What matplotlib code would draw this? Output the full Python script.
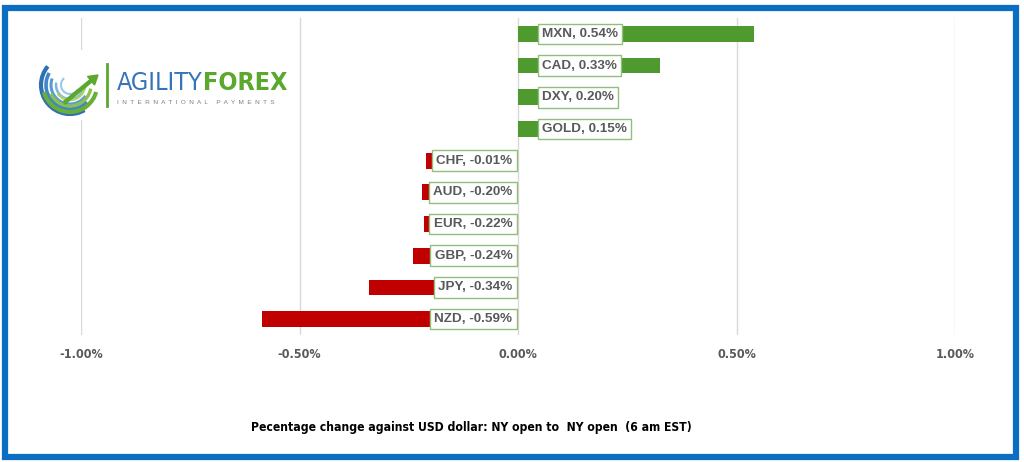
import numpy as np
import matplotlib.pyplot as plt
from matplotlib.patches import Rectangle, Arc, FancyArrow

# dados do grafico (de cima para baixo)
moedas = ["MXN", "CAD", "DXY", "GOLD", "CHF", "AUD", "EUR", "GBP", "JPY", "NZD"]
variacao = [0.54, 0.33, 0.20, 0.15, -0.01, -0.20, -0.22, -0.24, -0.34, -0.59]
# comprimento das barras como aparecem desenhadas
barras = [0.54, 0.325, 0.20, 0.15, -0.21, -0.22, -0.215, -0.24, -0.34, -0.585]
ticks_x = [-1.0, -0.5, 0.0, 0.5, 1.0]
titulo_x = "Pecentage change against USD dollar: NY open to  NY open  (6 am EST)"

W, H = 1024, 462
verde = "#4e9a2f"
vermelho = "#c00000"
cinza = "#595959"

fig = plt.figure(figsize=(W / 100, H / 100), dpi=100)
fig.patch.set_facecolor("white")

# moldura azul
fig.patches.append(Rectangle((5 / W, 1 - 457 / H), 1011 / W, 449 / H, transform=fig.transFigure,
                             fill=False, edgecolor="#0a6fc2", linewidth=4.5, zorder=10))

ax = fig.add_axes([81 / W, 1 - 335 / H, 874 / W, 317 / H])
y = np.arange(len(moedas))
cores = [verde if v >= 0 else vermelho for v in variacao]
ax.barh(y, barras, height=0.5, color=cores, zorder=2)
ax.set_xlim(-1, 1)
ax.set_ylim(len(moedas) - 0.5, -0.5)
ax.set_xticks(ticks_x)
ax.set_xticklabels([f"{t:.2f}%" for t in ticks_x], fontsize=9, fontweight="bold",
                   color=cinza, family="DejaVu Sans", fontstretch="condensed")
ax.tick_params(axis="x", length=0, pad=9)
ax.set_yticks([])
ax.grid(axis="x", color="#d9d9d9", linewidth=1, zorder=0)
for s in ax.spines.values():
    s.set_visible(False)

for i, (m, v) in enumerate(zip(moedas, variacao)):
    rotulo = f"{m}, {v:.2f}%"
    caixa = dict(boxstyle="square,pad=0.32", facecolor="white", edgecolor="#8fbf7a", linewidth=1)
    if v >= 0:
        ax.text(0.055, i, rotulo, ha="left", va="center", fontsize=9.7, fontweight="bold",
                color=cinza, family="Liberation Sans", bbox=caixa, zorder=5)
    else:
        ax.text(-0.013, i, rotulo, ha="right", va="center", fontsize=9.7, fontweight="bold",
                color=cinza, family="Liberation Sans", bbox=caixa, zorder=5)

fig.text(471 / W, 1 - 427 / H, titulo_x, ha="center", va="center", fontsize=8.7,
         fontweight="bold", color="black", family="DejaVu Sans", fontstretch="condensed")

# logo
lg = fig.add_axes([20 / W, 1 - 120 / H, 270 / W, 70 / H])
lg.set_xlim(0, 270)
lg.set_ylim(0, 70)
lg.axis("off")
lg.add_patch(Rectangle((0, 0), 270, 70, facecolor="white", edgecolor="none", zorder=0))
cx, cy = 50, 35
for r, t1, t2, c, lw in [(29, 140, 300, "#2f6fb3", 3.0), (24, 150, 315, "#3f86c6", 2.6),
                         (19, 160, 325, "#5a9ad3", 2.2), (14, 170, 335, "#7fb3e0", 1.8),
                         (9, 130, 330, "#9cc7ea", 1.5), (27, 195, 345, "#6aae3a", 3.0),
                         (21, 205, 350, "#8cc152", 2.4), (15, 215, 352, "#a9d46e", 1.8)]:
    lg.add_patch(Arc((cx, cy), 2 * r, 2 * r, theta1=t1, theta2=t2, color=c, linewidth=lw))
lg.add_patch(FancyArrow(44, 17, 34, 28, width=3, head_width=11, head_length=9,
                        color="#5aa82e", length_includes_head=True))
lg.plot([87, 87], [14, 56], color="#5aa82e", linewidth=2)
t1 = lg.text(97, 37, "AGILITY", ha="left", va="center", fontsize=18, color="#3674b8",
             family="DejaVu Sans", fontstretch="condensed", fontweight="light")
fig.canvas.draw()
bb = t1.get_window_extent().transformed(lg.transData.inverted())
lg.text(bb.x1, 37, "FOREX", ha="left", va="center", fontsize=18, color="#5aa82e",
        fontweight="bold", family="DejaVu Sans", fontstretch="condensed")
lg.text(97, 18, "  ".join("INTERNATIONAL") + "     " + "  ".join("PAYMENTS"), ha="left",
        va="center", fontsize=4.6, color="#7f7f7f", family="Liberation Sans")

plt.savefig("out.png", dpi=100)
